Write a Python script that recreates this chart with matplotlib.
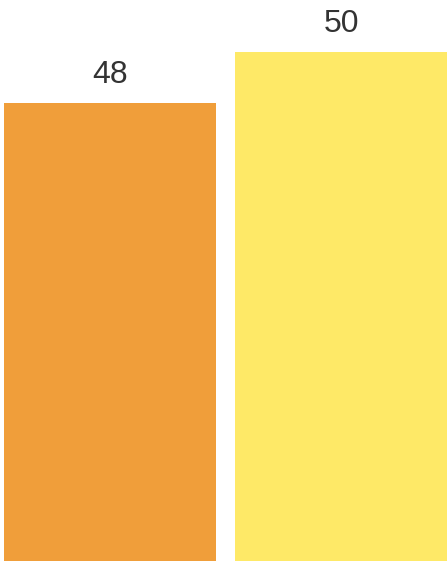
import matplotlib
matplotlib.use('Agg')
from matplotlib import pyplot as plt

# data
categories = ['A', 'B']
values = [48, 50]
colors = ['#F09E3A', '#FEE967']

base = 30  # visible bottom of the bars

fig = plt.figure(figsize=(4.48, 5.63), dpi=100)
ax = fig.add_axes([0, 0, 1, 1])

x = list(range(len(categories)))
heights = [v - base for v in values]
ax.bar(x, heights, bottom=base, width=0.918, color=colors)

for xi, v in zip(x, values):
    ax.annotate(str(v), (xi, v), xytext=(0, 14), textcoords='offset points',
                ha='center', va='baseline', fontsize=23, color='#333333',
                family='Liberation Sans')

ax.set_xlim(-0.476, 1.463)
ax.set_ylim(29.94, 52.02)
ax.axis('off')

fig.savefig('out.png', dpi=100)
